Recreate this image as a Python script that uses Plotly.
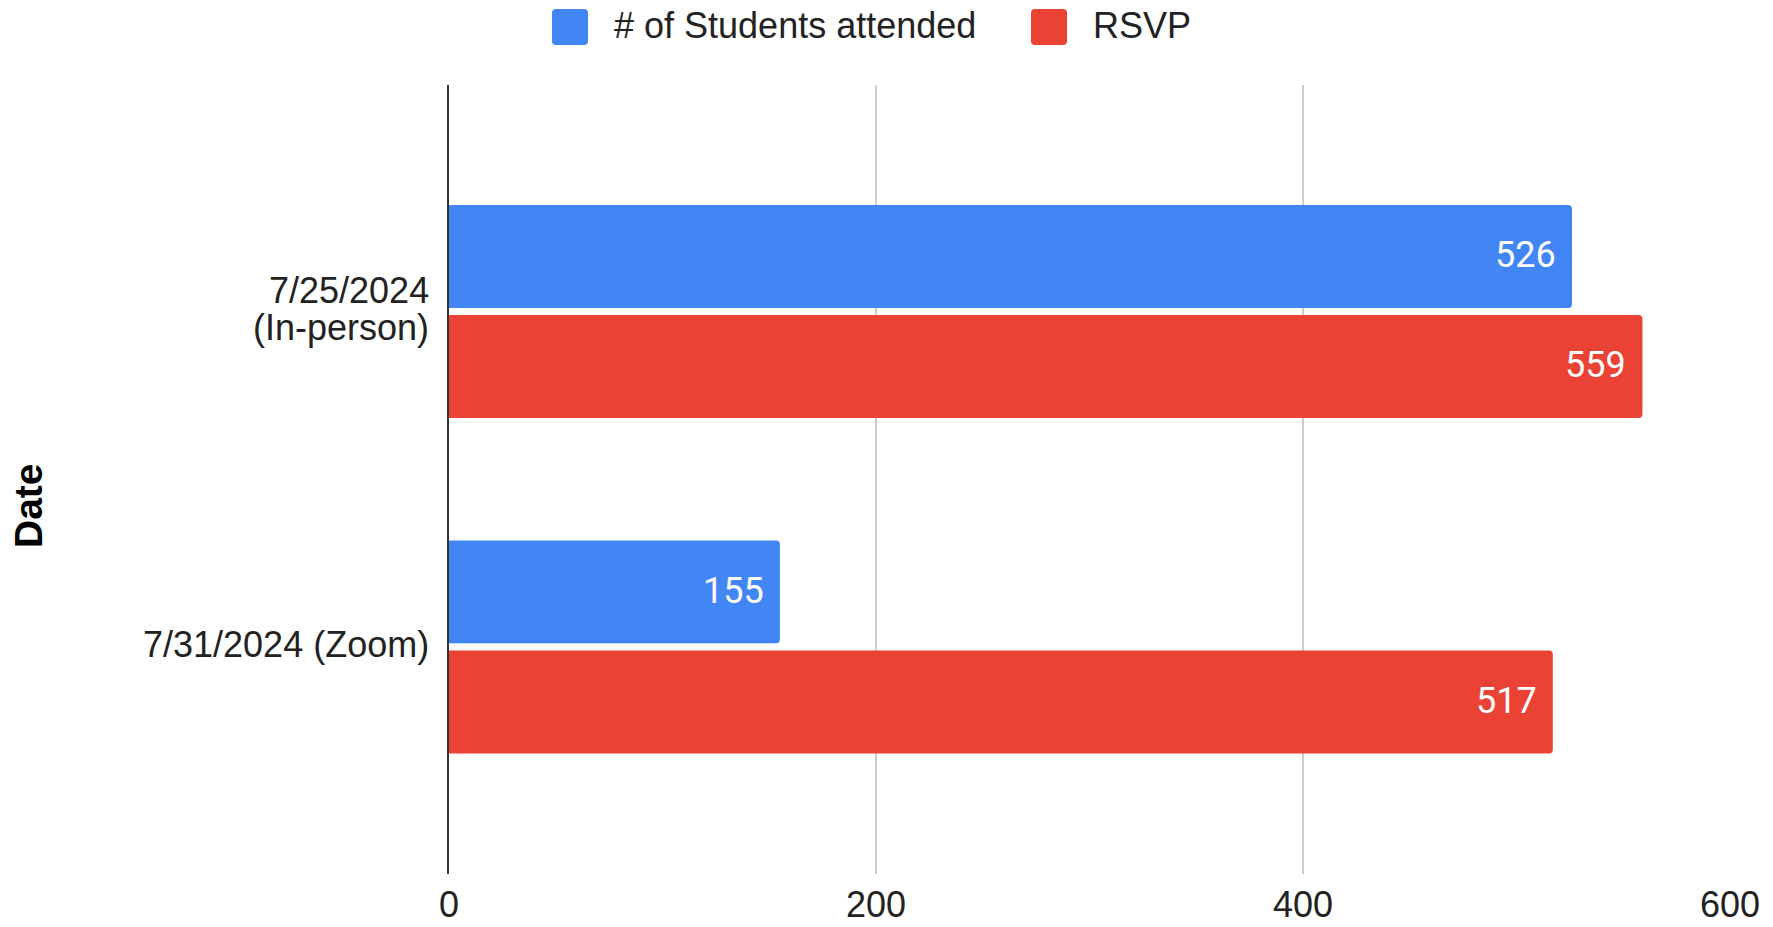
import plotly.graph_objects as go

# Event attendance data
dates = ["7/25/2024<br>(In-person)", "7/31/2024 (Zoom)"]
attended = [526, 155]
rsvp = [559, 517]
series_names = ["# of Students attended", "RSVP"]
x_ticks = [0, 200, 400, 600]

BLUE = "#4285F4"
RED = "#EA4335"
TEXT = "#222222"
W, H = 1773, 927
ML, MR, MT, MB = 449, 43, 85, 53
PW, PH = W - ML - MR, H - MT - MB


def px_x(x):
    return (x - ML) / PW


def px_y(y):
    return (H - MB - y) / PH


fig = go.Figure()
fig.add_trace(go.Bar(
    y=dates, x=attended, orientation="h", name=series_names[0],
    marker=dict(color=BLUE, cornerradius=4, line=dict(width=0)),
    width=0.307, offset=-0.3175, hoverinfo="skip",
))
fig.add_trace(go.Bar(
    y=dates, x=rsvp, orientation="h", name=series_names[1],
    marker=dict(color=RED, cornerradius=4, line=dict(width=0)),
    width=0.307, offset=0.0105, hoverinfo="skip",
))

annotations = []
# value labels inside the bar ends
for vals, shift in ((attended, 56), (rsvp, -54)):
    for d, v in zip(dates, vals):
        annotations.append(dict(
            x=v, y=d, xref="x", yref="y", text=str(v), showarrow=False,
            xanchor="right", yanchor="middle", xshift=-14, yshift=shift,
            font=dict(family="Roboto", size=36, color="white"),
        ))

# category labels with tight line spacing
LINE_H = 37
for d in dates:
    lines = d.split("<br>")
    n = len(lines)
    for i, line in enumerate(lines):
        offset = ((n - 1) / 2 - i) * LINE_H
        annotations.append(dict(
            x=0, y=d, xref="paper", yref="y", text=line, showarrow=False,
            xanchor="right", yanchor="middle", xshift=-18, yshift=offset + 2,
            font=dict(family="Liberation Sans", size=36, color=TEXT),
        ))

# axis title
annotations.append(dict(
    x=px_x(29), y=px_y(506), xref="paper", yref="paper", text="<b>Date</b>",
    showarrow=False, textangle=-90, xanchor="center", yanchor="middle",
    font=dict(family="Liberation Sans", size=39, color="#000000"),
))

# legend drawn as swatches and labels
shapes = []
legend_items = [(series_names[0], BLUE, 552, 612), (series_names[1], RED, 1031, 1091)]
for name, color, bx, tx in legend_items:
    x0, x1, y0, y1, r = bx, bx + 36, 9, 45, 4
    path = (f"M {px_x(x0 + r)},{px_y(y0)} L {px_x(x1 - r)},{px_y(y0)} "
            f"Q {px_x(x1)},{px_y(y0)} {px_x(x1)},{px_y(y0 + r)} "
            f"L {px_x(x1)},{px_y(y1 - r)} Q {px_x(x1)},{px_y(y1)} {px_x(x1 - r)},{px_y(y1)} "
            f"L {px_x(x0 + r)},{px_y(y1)} Q {px_x(x0)},{px_y(y1)} {px_x(x0)},{px_y(y1 - r)} "
            f"L {px_x(x0)},{px_y(y0 + r)} Q {px_x(x0)},{px_y(y0)} {px_x(x0 + r)},{px_y(y0)} Z")
    shapes.append(dict(type="path", path=path, xref="paper", yref="paper",
                       fillcolor=color, line=dict(width=0)))
    annotations.append(dict(
        x=px_x(tx), y=px_y(25), xref="paper", yref="paper", text=name,
        showarrow=False, xanchor="left", yanchor="middle",
        font=dict(family="Liberation Sans", size=36, color=TEXT),
    ))

fig.update_layout(
    width=W, height=H, autosize=False,
    margin=dict(l=ML, r=MR, t=MT, b=MB, pad=0, autoexpand=False),
    paper_bgcolor="white", plot_bgcolor="white",
    showlegend=False,
    barmode="group",
    font=dict(family="Liberation Sans", size=36, color=TEXT),
    annotations=annotations, shapes=shapes,
    xaxis=dict(
        range=[0, 600], tickvals=x_ticks, ticktext=[str(t) for t in x_ticks],
        showgrid=True, gridcolor="#cccccc", gridwidth=2,
        zeroline=False, showline=False, ticks="", automargin=False,
        ticklabelstandoff=6, layer="below traces",
        tickfont=dict(family="Liberation Sans", size=36, color=TEXT),
    ),
    yaxis=dict(
        type="category", categoryorder="array", categoryarray=dates,
        range=[1.677, -0.675], automargin=False,
        showgrid=False, zeroline=False, showline=True,
        linecolor="#333333", linewidth=2, ticks="",
        showticklabels=False, layer="below traces",
    ),
)

fig.write_html("out.html")
